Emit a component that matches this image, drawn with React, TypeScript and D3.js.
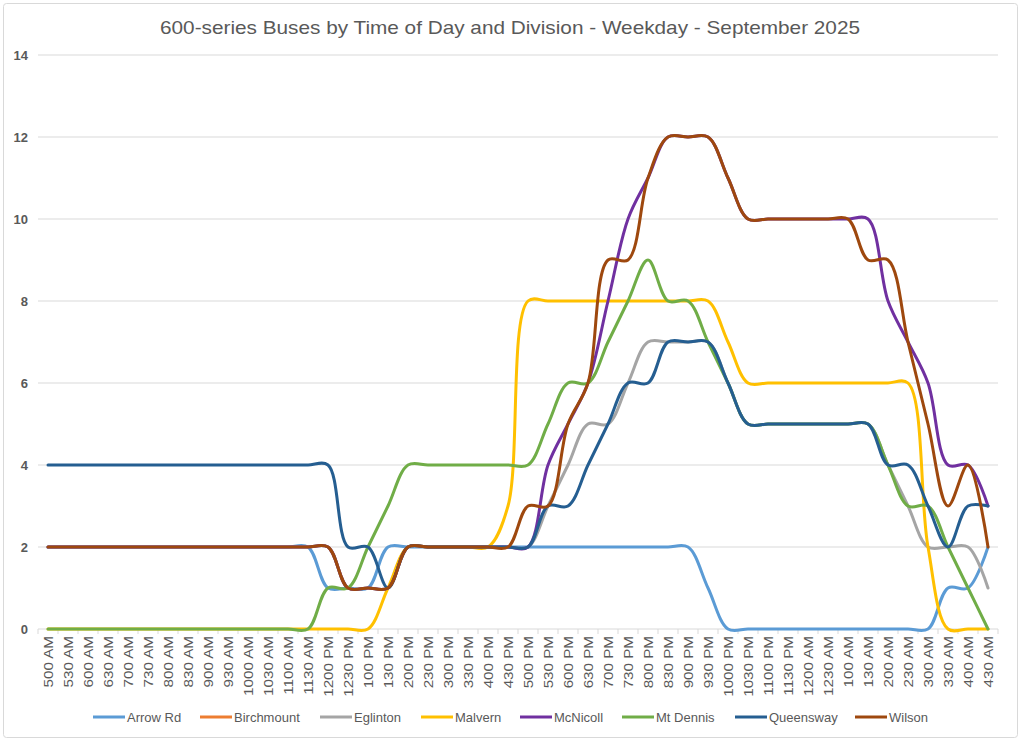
import React from "react";
import * as d3 from "d3";

const categories = [
  "500 AM","530 AM","600 AM","630 AM","700 AM","730 AM","800 AM","830 AM","900 AM","930 AM",
  "1000 AM","1030 AM","1100 AM","1130 AM","1200 PM","1230 PM","100 PM","130 PM","200 PM","230 PM",
  "300 PM","330 PM","400 PM","430 PM","500 PM","530 PM","600 PM","630 PM","700 PM","730 PM",
  "800 PM","830 PM","900 PM","930 PM","1000 PM","1030 PM","1100 PM","1130 PM","1200 AM","1230 AM",
  "100 AM","130 AM","200 AM","230 AM","300 AM","330 AM","400 AM","430 AM"
];

const arrowRd = [2,2,2,2,2,2,2,2,2,2,2,2,2,2,1,1,1,2,2,2,2,2,2,2,2,2,2,2,2,2,2,2,2,1,0,0,0,0,0,0,0,0,0,0,0,1,1,2];
const birchmount: (number | null)[] = [];
const eglinton = [2,2,2,2,2,2,2,2,2,2,2,2,2,2,2,1,1,1,2,2,2,2,2,2,2,3,4,5,5,6,7,7,7,7,6,5,5,5,5,5,5,5,4,3,2,2,2,1];
const malvern = [0,0,0,0,0,0,0,0,0,0,0,0,0,0,0,0,0,1,2,2,2,2,2,3,8,8,8,8,8,8,8,8,8,8,7,6,6,6,6,6,6,6,6,6,2,0,0,0];
const mcnicoll = [2,2,2,2,2,2,2,2,2,2,2,2,2,2,2,1,1,1,2,2,2,2,2,2,2,4,5,6,8,10,11,12,12,12,11,10,10,10,10,10,10,10,8,7,6,4,4,3];
const mtDennis = [0,0,0,0,0,0,0,0,0,0,0,0,0,0,1,1,2,3,4,4,4,4,4,4,4,5,6,6,7,8,9,8,8,7,6,5,5,5,5,5,5,5,4,3,3,2,1,0];
const queensway = [4,4,4,4,4,4,4,4,4,4,4,4,4,4,4,2,2,1,2,2,2,2,2,2,2,3,3,4,5,6,6,7,7,7,6,5,5,5,5,5,5,5,4,4,3,2,3,3];
const wilson = [2,2,2,2,2,2,2,2,2,2,2,2,2,2,2,1,1,1,2,2,2,2,2,2,3,3,5,6,9,9,11,12,12,12,11,10,10,10,10,10,10,9,9,7,5,3,4,2];

const seriesNames = ["Arrow Rd","Birchmount","Eglinton","Malvern","McNicoll","Mt Dennis","Queensway","Wilson"];
const seriesValues: (number | null)[][] = [arrowRd, birchmount, eglinton, malvern, mcnicoll, mtDennis, queensway, wilson];
const seriesColors = ["#5B9BD5","#ED7D31","#A5A5A5","#FFC000","#7030A0","#70AD47","#255E91","#9E480E"];
const yTicks = [0,2,4,6,8,10,12,14];
const legendX = [93, 200, 320, 421, 520, 622, 735, 855];

const W = 1024, H = 743;
const plotLeft = 38, plotRight = 998, plotTop = 55, plotBottom = 629;

export default function App() {
  const x = d3.scaleBand<string>().domain(categories).range([plotLeft, plotRight]);
  const y = d3.scaleLinear().domain([0, 14]).range([plotBottom, plotTop]);
  const cx = (c: string) => (x(c) as number) + x.bandwidth() / 2;
  const line = d3.line<number | null>()
    .defined((d) => d !== null && d !== undefined)
    .x((_, i) => cx(categories[i]))
    .y((d) => y(d as number))
    .curve(d3.curveCatmullRom.alpha(0.5));
  const font = "'Liberation Sans', Arial, sans-serif";
  const grey = "#595959";
  return (
    <div style={{ position: "absolute", left: 0, top: 0 }}>
      <svg width={W} height={H} style={{ display: "block" }}>
        <rect x={0} y={0} width={W} height={H} fill="#ffffff" />
        <rect x={3.5} y={3.5} width={1014} height={734} rx={3} fill="#ffffff" stroke="#d9d9d9" strokeWidth={1} />
        <text x={510} y={34} textAnchor="middle" fontFamily={font} fontSize={19} fill={grey}
          textLength={700} lengthAdjust="spacingAndGlyphs">
          600-series Buses by Time of Day and Division - Weekday - September 2025
        </text>
        {yTicks.map((t) => (
          <g key={t}>
            {t > 0 && <line x1={plotLeft} x2={plotRight} y1={y(t)} y2={y(t)} stroke="#d9d9d9" strokeWidth={1} />}
            <text x={28} y={y(t) + 4.5} textAnchor="end" fontFamily={font} fontSize={13} fontWeight="bold" fill={grey}>{t}</text>
          </g>
        ))}
        <line x1={plotLeft} x2={plotRight} y1={plotBottom} y2={plotBottom} stroke="#d9d9d9" strokeWidth={1} />
        {categories.map((c, i) => (
          <line key={"tk" + i} x1={x(c) as number} x2={x(c) as number} y1={plotBottom} y2={plotBottom + 5} stroke="#d9d9d9" />
        ))}
        <line x1={plotRight} x2={plotRight} y1={plotBottom} y2={plotBottom + 5} stroke="#d9d9d9" />
        {categories.map((c) => (
          <text key={c} transform={`translate(${cx(c) + 4.5},${plotBottom + 7}) rotate(-90) scale(1.17,1)`} textAnchor="end"
            fontFamily={font} fontSize={13} fill={grey}>{c}</text>
        ))}
        {seriesValues.map((vals, k) => (
          <path key={seriesNames[k]} d={vals.length ? (line(vals) || "") : ""} fill="none" stroke={seriesColors[k]} strokeWidth={3}
            strokeLinecap="round" strokeLinejoin="round" />
        ))}
        {seriesNames.map((n, k) => (
          <g key={"lg" + n}>
            <line x1={legendX[k]} x2={legendX[k] + 32} y1={717} y2={717} stroke={seriesColors[k]} strokeWidth={3} />
            <text x={legendX[k] + 34} y={721.5} fontFamily={font} fontSize={13} fill={grey}>{n}</text>
          </g>
        ))}
      </svg>
    </div>
  );
}
